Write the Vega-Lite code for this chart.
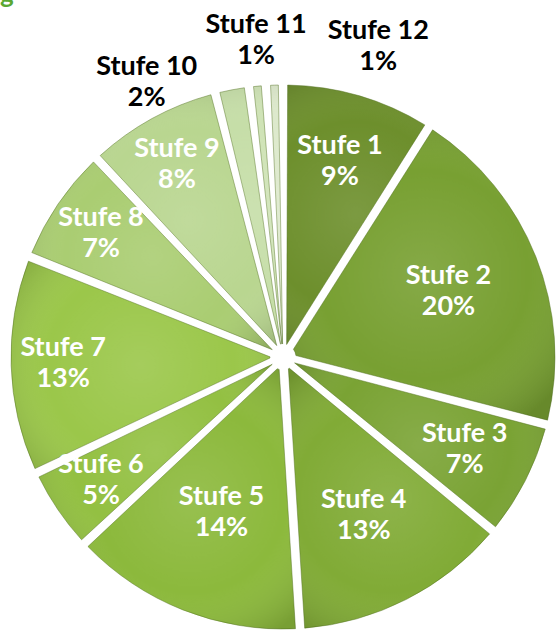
{
  "$schema": "https://vega.github.io/schema/vega-lite/v6.json",
  "width": 548,
  "height": 550,
  "autosize": "none",
  "padding": {"left": 9, "top": 82, "right": 0, "bottom": 0},
  "background": "white",
  "title": {"text": "g", "anchor": "start", "frame": "group", "fontSize": 26, "fontWeight": "bold", "color": "#5aa832", "font": "Lato", "baseline": "bottom", "offset": -24, "dx": -9},
  "data": {"values": [
    {"n": 1, "stufe": "Stufe 1", "pct": 9},
    {"n": 2, "stufe": "Stufe 2", "pct": 20},
    {"n": 3, "stufe": "Stufe 3", "pct": 7},
    {"n": 4, "stufe": "Stufe 4", "pct": 13},
    {"n": 5, "stufe": "Stufe 5", "pct": 14},
    {"n": 6, "stufe": "Stufe 6", "pct": 5},
    {"n": 7, "stufe": "Stufe 7", "pct": 13},
    {"n": 8, "stufe": "Stufe 8", "pct": 7},
    {"n": 9, "stufe": "Stufe 9", "pct": 8},
    {"n": 10, "stufe": "Stufe 10", "pct": 2},
    {"n": 11, "stufe": "Stufe 11", "pct": 1},
    {"n": 12, "stufe": "Stufe 12", "pct": 1}
  ]},
  "transform": [{"calculate": "[datum.stufe, datum.pct + '%']", "as": "label"}],
  "encoding": {
    "theta": {"field": "pct", "type": "quantitative", "stack": true},
    "order": {"field": "n", "type": "quantitative"}
  },
  "layer": [
    {
      "mark": {"type": "arc", "radius": 272, "radius2": 13, "padAngle": 0.034, "stroke": "#4f6e1c", "strokeOpacity": 0.45, "strokeWidth": 1},
      "encoding": {
        "color": {"field": "stufe", "type": "nominal", "legend": null,
          "scale": {"domain": ["Stufe 1","Stufe 2","Stufe 3","Stufe 4","Stufe 5","Stufe 6","Stufe 7","Stufe 8","Stufe 9","Stufe 10","Stufe 11","Stufe 12"],
                    "range": ["#6d8f2c","#78a032","#7aa334","#81ab36","#8cb93c","#93c042","#9bc74a","#aacd72","#b9d690","#c6dea8","#cfe3b6","#dde9cc"]}}
      }
    },
    {
      "mark": {"type": "arc", "radius": 272, "radius2": 13, "padAngle": 0.034, "strokeWidth": 0,
        "fill": {"gradient": "radial", "x1": 0.5, "y1": 0.5, "r1": 0, "x2": 0.5, "y2": 0.5, "r2": 0.6,
          "stops": [{"offset": 0, "color": "rgba(255,255,255,0.10)"}, {"offset": 0.6, "color": "rgba(255,255,255,0)"}, {"offset": 1, "color": "rgba(0,0,0,0.14)"}]}},
      "encoding": {}
    },
    {
      "mark": {"type": "text", "radius": 178, "dy": -15.5, "font": "Lato", "fontWeight": "bold", "fontSize": 27, "color": "white", "lineHeight": 31},
      "encoding": {"text": {"condition": {"test": "datum.n == 2 || datum.n == 4", "field": "label"}, "value": ""}}
    },
    {
      "mark": {"type": "text", "radius": 167, "dy": -15.5, "font": "Lato", "fontWeight": "bold", "fontSize": 27, "color": "white", "lineHeight": 31},
      "encoding": {"text": {"condition": {"test": "datum.n == 5", "field": "label"}, "value": ""}}
    },
    {
      "mark": {"type": "text", "radius": 204, "dy": -15.5, "font": "Lato", "fontWeight": "bold", "fontSize": 27, "color": "white", "lineHeight": 31},
      "encoding": {"text": {"condition": {"test": "datum.n == 1 || datum.n == 3", "field": "label"}, "value": ""}}
    },
    {
      "mark": {"type": "text", "radius": 220, "dy": -15.5, "font": "Lato", "fontWeight": "bold", "fontSize": 27, "color": "white", "lineHeight": 31},
      "encoding": {"text": {"condition": {"test": "datum.n >= 6 && datum.n <= 9", "field": "label"}, "value": ""}}
    },
    {
      "mark": {"type": "text", "radius": 279, "dx": -84, "dy": -15.5, "font": "Lato", "fontWeight": "bold", "fontSize": 27, "color": "black", "lineHeight": 31},
      "encoding": {"text": {"condition": {"test": "datum.n == 10", "field": "label"}, "value": ""}}
    },
    {
      "mark": {"type": "text", "radius": 318, "dx": 3, "dy": -15.5, "font": "Lato", "fontWeight": "bold", "fontSize": 27, "color": "black", "lineHeight": 31},
      "encoding": {"text": {"condition": {"test": "datum.n == 11", "field": "label"}, "value": ""}}
    },
    {
      "mark": {"type": "text", "radius": 311, "dx": 105, "dy": -15.5, "font": "Lato", "fontWeight": "bold", "fontSize": 27, "color": "black", "lineHeight": 31},
      "encoding": {"text": {"condition": {"test": "datum.n == 12", "field": "label"}, "value": ""}}
    }
  ]
}
